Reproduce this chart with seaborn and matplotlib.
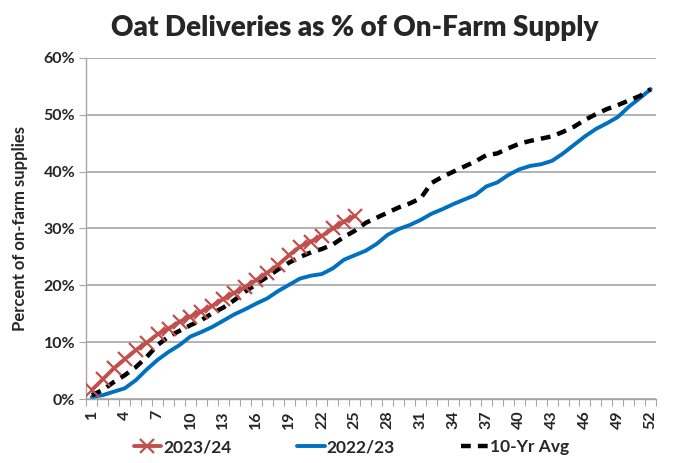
import numpy as np
import pandas as pd
import matplotlib
matplotlib.use("Agg")
import matplotlib.pyplot as plt
from matplotlib.lines import Line2D
import seaborn as sns

weeks = list(range(1, 53))
tick_weeks = list(range(1, 53, 3))
y_ticks = [0, 10, 20, 30, 40, 50, 60]

s2023_24 = [1.6, 3.5, 5.4, 7.0, 8.6, 9.9, 11.4, 12.4, 13.6, 14.5, 15.4, 16.4, 17.6,
            18.7, 19.7, 20.9, 22.2, 23.6, 25.3, 26.8, 27.7, 28.7, 30.0, 31.2, 32.2]
s2022_23 = [0.4, 0.7, 1.3, 1.9, 3.3, 5.2, 6.9, 8.3, 9.5, 11.0, 11.8, 12.7, 13.8,
            14.9, 15.8, 16.8, 17.7, 19.0, 20.1, 21.2, 21.7, 22.0, 23.0, 24.5, 25.3,
            26.1, 27.3, 28.9, 29.9, 30.6, 31.5, 32.6, 33.4, 34.3, 35.1, 35.9, 37.4,
            38.1, 39.4, 40.4, 41.0, 41.3, 41.9, 43.2, 44.7, 46.2, 47.5, 48.5, 49.6,
            51.4, 52.9, 54.5]
avg10 = [0.7, 1.6, 3.0, 4.2, 5.6, 7.4, 9.5, 11.0, 12.0, 13.0, 13.9, 15.1, 16.1,
         17.4, 18.9, 20.2, 21.5, 22.8, 24.0, 25.0, 25.8, 26.4, 27.2, 28.5, 29.6,
         31.0, 31.9, 32.8, 33.7, 34.4, 35.3, 38.0, 39.1, 40.0, 40.9, 41.8, 42.9,
         43.2, 44.1, 44.9, 45.4, 45.8, 46.2, 47.0, 47.9, 49.1, 50.1, 51.0, 51.7,
         52.5, 53.3, 54.5]

labels = ["2023/24", "2022/23", "10-Yr Avg"]
colors = ["#C0504D", "#0070C0", "#000000"]

sns.set_theme(style="white")
plt.rcParams['font.family'] = ['Lato', 'DejaVu Sans']

fig = plt.figure(figsize=(6.8, 4.63), dpi=100)
ax = fig.add_axes([0.127, 0.138, 0.838, 0.737])

df_red = pd.DataFrame({"week": weeks[:len(s2023_24)], "pct": s2023_24})
df_blue = pd.DataFrame({"week": weeks, "pct": s2022_23})
df_avg = pd.DataFrame({"week": weeks, "pct": avg10})

dash = (0, (2.2, 1.6))
sns.lineplot(data=df_avg, x="week", y="pct", ax=ax, color=colors[2], lw=3.2,
             linestyle=dash, zorder=3)
sns.lineplot(data=df_blue, x="week", y="pct", ax=ax, color=colors[1], lw=2.8, zorder=2)
sns.lineplot(data=df_red, x="week", y="pct", ax=ax, color=colors[0], lw=2.8,
             marker="x", markersize=9.5, markeredgewidth=1.6, markeredgecolor=colors[0],
             zorder=4)

ax.set_xlim(0.5, 52.5)
ax.set_ylim(0, 60)
ax.set_yticks(y_ticks)
ax.set_yticklabels([f"{v}%" for v in y_ticks], fontsize=11.5, fontweight="bold")
ax.set_xticks(tick_weeks)
ax.set_xticklabels([str(w) for w in tick_weeks], rotation=90, fontsize=11.5,
                   fontweight="bold")
ax.set_xticks(np.arange(0.5, 53.0, 1.0), minor=True)
ax.tick_params(axis="x", which="major", length=0, pad=8)
ax.tick_params(axis="x", which="minor", length=5, color="#A6A6A6", width=0.8,
               direction="out", bottom=True)
ax.tick_params(axis="y", which="major", length=5, color="#A6A6A6", width=0.8,
               direction="out", left=True, pad=3)
ax.yaxis.grid(True, color="#A6A6A6", lw=1.2)
ax.xaxis.grid(False)
for side in ["top", "right"]:
    ax.spines[side].set_visible(False)
for side in ["left", "bottom"]:
    ax.spines[side].set_color("#A6A6A6")
    ax.spines[side].set_linewidth(1.0)
ax.set_xlabel("")
ax.set_ylabel("Percent of on-farm supplies", fontsize=12, fontweight="bold",
              labelpad=11)

fig.text(0.522, 0.94, "Oat Deliveries as % of On-Farm Supply", ha="center",
         va="center", fontsize=20, fontweight="heavy")

handles = [
    Line2D([], [], color=colors[0], lw=2.8, marker="x", markersize=9.5,
           markeredgewidth=1.6),
    Line2D([], [], color=colors[1], lw=2.8),
    Line2D([], [], color=colors[2], lw=3.2, linestyle=dash),
]
leg = fig.legend(handles, labels, loc="center", bbox_to_anchor=(0.517, 0.034),
                 ncol=3, frameon=False, prop={"weight": "bold", "size": 12.5},
                 handlelength=1.6, handletextpad=0.1, columnspacing=3.8)

fig.savefig("out.png", dpi=100)
